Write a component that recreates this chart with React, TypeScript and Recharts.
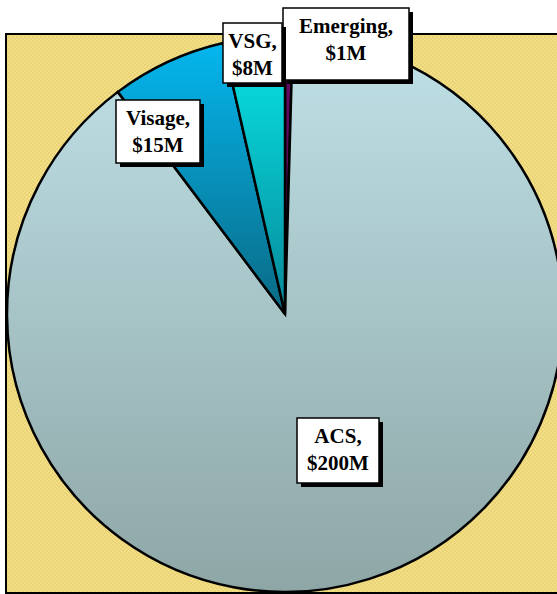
import { PieChart, Pie, Cell } from 'recharts';

// revenue by business unit, $M
const UNITS = ['Emerging', 'ACS', 'Visage', 'VSG'];
const REVENUE = [1, 200, 15, 8];
const FILLS = ['url(#gEmerging)', 'url(#gAcs)', 'url(#gVisage)', 'url(#gVsg)'];

const data = UNITS.map((name, i) => ({ name, value: REVENUE[i] }));

// callout boxes (box top-left, size)
const LABEL_BOX: Record<string, { x: number; y: number; w: number; h: number }> = {
  Emerging: { x: 283, y: 8, w: 126, h: 72 },
  ACS: { x: 297, y: 418, w: 82, h: 65 },
  Visage: { x: 116, y: 100, w: 84, h: 63 },
  VSG: { x: 223, y: 23, w: 59, h: 60 },
};

const W = 557;
const H = 594;

interface LabelProps { name?: string; value?: number; }

function Callout({ name, value }: LabelProps) {
  const b = name ? LABEL_BOX[name] : undefined;
  if (!b) return null;
  const mid = b.x + b.w / 2;
  return (
    <g>
      <rect x={b.x + 4} y={b.y + 4} width={b.w} height={b.h} fill="#000" />
      <rect x={b.x} y={b.y} width={b.w} height={b.h} fill="#fff" stroke="#000" strokeWidth={1.5} />
      <text
        x={mid} textAnchor="middle" fill="#000"
        fontFamily="'Liberation Serif', 'Times New Roman', serif" fontWeight="bold" fontSize={21}
      >
        <tspan x={mid} y={b.y + 25}>{name},</tspan>
        <tspan x={mid} y={b.y + 52}>${value}M</tspan>
      </text>
    </g>
  );
}

export default function App() {
  return (
    <div style={{ position: 'absolute', left: 0, top: 0, width: W, height: H, background: '#fff', overflow: 'hidden' }}>
      <svg width={W} height={H} style={{ position: 'absolute', left: 0, top: 0 }}>
        <defs>
          <pattern id="hatch" width="4" height="4" patternUnits="userSpaceOnUse">
            <rect width="4" height="4" fill="#f2de88" />
            <rect width="2" height="2" fill="#eAd474" />
            <rect x="2" y="2" width="2" height="2" fill="#ead474" />
          </pattern>
          <linearGradient id="gAcs" x1="0" y1="0" x2="0" y2="1">
            <stop offset="0%" stopColor="#bfe1e7" />
            <stop offset="100%" stopColor="#8ea6a6" />
          </linearGradient>
          <linearGradient id="gVisage" x1="0" y1="0" x2="0" y2="1">
            <stop offset="0%" stopColor="#04b6ee" />
            <stop offset="100%" stopColor="#0a6a84" />
          </linearGradient>
          <linearGradient id="gVsg" x1="0" y1="0" x2="0" y2="1">
            <stop offset="0%" stopColor="#08e6e6" />
            <stop offset="100%" stopColor="#06889a" />
          </linearGradient>
          <linearGradient id="gEmerging" x1="0" y1="0" x2="0" y2="1">
            <stop offset="0%" stopColor="#6a0a6a" />
            <stop offset="100%" stopColor="#3a0a4a" />
          </linearGradient>
        </defs>
        <rect x={6} y={34} width={W + 10} height={559} fill="url(#hatch)" stroke="#000" strokeWidth={2} />
      </svg>
      <div style={{ position: 'absolute', left: 0, top: 0 }}>
        <PieChart width={W} height={H} margin={{ top: 0, right: 0, bottom: 0, left: 0 }}>
          <Pie
            data={data}
            dataKey="value"
            nameKey="name"
            cx={285}
            cy={314}
            outerRadius={278}
            startAngle={90}
            endAngle={-270}
            stroke="#000"
            strokeWidth={2.5}
            labelLine={false}
            label={(p: LabelProps) => <Callout name={p.name} value={p.value} />}
            isAnimationActive={false}
          >
            {data.map((d, i) => (
              <Cell key={d.name} fill={FILLS[i]} />
            ))}
          </Pie>
        </PieChart>
      </div>
    </div>
  );
}
